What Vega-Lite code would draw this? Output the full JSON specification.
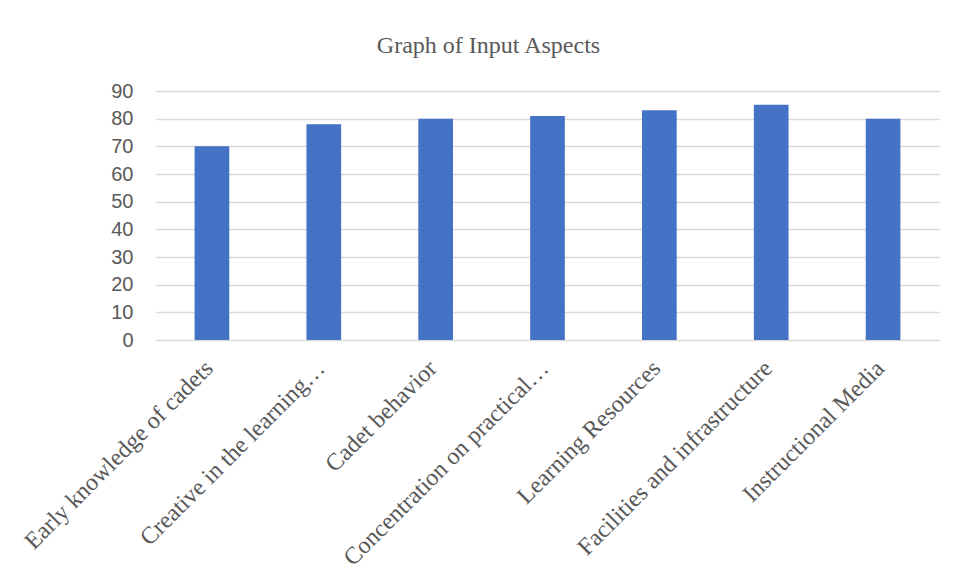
{
  "$schema": "https://vega.github.io/schema/vega-lite/v6.json",
  "width": 783,
  "height": 249,
  "autosize": "none",
  "padding": {"left": 156, "top": 91, "right": 16, "bottom": 231},
  "background": "white",
  "title": {
    "text": "Graph of Input Aspects",
    "font": "Liberation Serif",
    "fontSize": 24,
    "fontWeight": "normal",
    "color": "#595959",
    "offset": 23,
    "dx": -59
  },
  "data": {
    "values": [
      {"aspect": "Early knowledge of cadets", "value": 70},
      {"aspect": "Creative in the learning…", "value": 78},
      {"aspect": "Cadet behavior", "value": 80},
      {"aspect": "Concentration on practical…", "value": 81},
      {"aspect": "Learning Resources", "value": 83},
      {"aspect": "Facilities and infrastructure", "value": 85},
      {"aspect": "Instructional Media", "value": 80}
    ]
  },
  "mark": {"type": "bar", "color": "#4472C4"},
  "encoding": {
    "x": {
      "field": "aspect",
      "type": "nominal",
      "sort": null,
      "scale": {"paddingInner": 0.69, "paddingOuter": 0.345},
      "axis": {
        "title": null,
        "labelAngle": -45,
        "labelAlign": "right",
        "labelBaseline": "top",
        "labelFont": "Liberation Serif",
        "labelFontSize": 24,
        "labelColor": "#595959",
        "ticks": false,
        "domain": false,
        "labelPadding": 16,
        "labelOffset": -11,
        "labelLimit": 0
      }
    },
    "y": {
      "field": "value",
      "type": "quantitative",
      "scale": {"domain": [0, 90]},
      "axis": {
        "values": [0, 10, 20, 30, 40, 50, 60, 70, 80, 90],
        "title": null,
        "labelFont": "Liberation Sans",
        "labelFontSize": 20,
        "labelColor": "#595959",
        "ticks": false,
        "domain": false,
        "labelPadding": 23,
        "gridColor": "#d9d9d9",
        "gridWidth": 1.3
      }
    }
  },
  "config": {"view": {"stroke": null}}
}
